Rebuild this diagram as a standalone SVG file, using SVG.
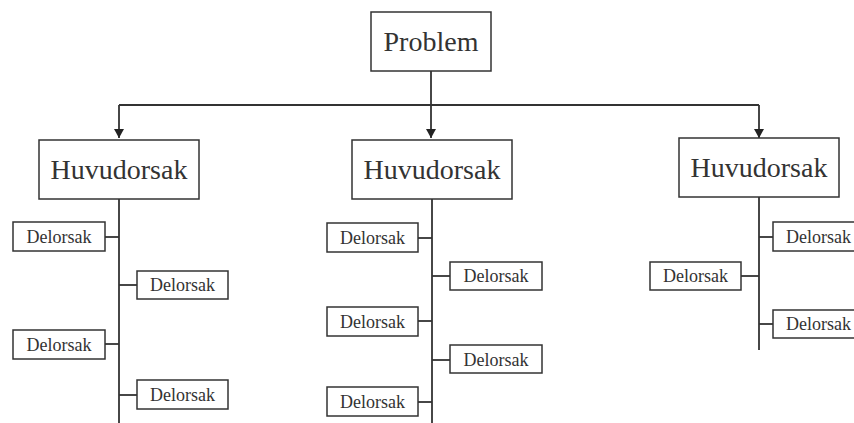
<svg xmlns="http://www.w3.org/2000/svg" width="854" height="423" viewBox="0 0 854 423">
  <style>
    .box { fill: #ffffff; stroke: #333333; stroke-width: 1.5; }
    .line { fill: none; stroke: #333333; stroke-width: 1.8; }
    .big { font-family: "Liberation Serif", "Times New Roman", serif; font-size: 28px; fill: #333333; text-anchor: middle; }
    .small { font-family: "Liberation Serif", "Times New Roman", serif; font-size: 18px; fill: #333333; text-anchor: middle; }
  </style>
  <defs>
    <marker id="arrow" markerWidth="10" markerHeight="10" refX="9" refY="5" orient="auto" markerUnits="userSpaceOnUse">
      <path d="M0,0 L9,5 L0,10 z" fill="#222222"/>
    </marker>
  </defs>
  <rect width="854" height="423" fill="#ffffff"/>

  <!-- connectors -->
  <g id="connectors">
    <!-- root to branches -->
    <path class="line" d="M431,71 V138" marker-end="url(#arrow)"/>
    <path class="line" d="M119,105 H759"/>
    <path class="line" d="M119,105 V138" marker-end="url(#arrow)"/>
    <path class="line" d="M759,105 V138" marker-end="url(#arrow)"/>
    <!-- spine 1 -->
    <path class="line" d="M119,199 V423"/>
    <path class="line" d="M105,237 H119"/>
    <path class="line" d="M119,285 H137"/>
    <path class="line" d="M105,344 H119"/>
    <path class="line" d="M119,395 H137"/>
    <!-- spine 2 -->
    <path class="line" d="M432,199 V423"/>
    <path class="line" d="M418,238 H432"/>
    <path class="line" d="M432,276 H450"/>
    <path class="line" d="M418,321 H432"/>
    <path class="line" d="M432,360 H450"/>
    <path class="line" d="M418,402 H432"/>
    <!-- spine 3 -->
    <path class="line" d="M759,197 V350"/>
    <path class="line" d="M759,237 H773"/>
    <path class="line" d="M741,276 H759"/>
    <path class="line" d="M759,324 H773"/>
  </g>

  <g id="problem">
    <rect class="box" x="371" y="12" width="120" height="59"/>
    <text class="big" x="431" y="51">Problem</text>
  </g>

  <g id="huvudorsak-1">
    <rect class="box" x="39" y="140" width="160" height="59"/>
    <text class="big" x="119" y="179">Huvudorsak</text>
  </g>
  <g id="huvudorsak-2">
    <rect class="box" x="352" y="140" width="160" height="59"/>
    <text class="big" x="432" y="179">Huvudorsak</text>
  </g>
  <g id="huvudorsak-3">
    <rect class="box" x="679" y="138" width="160" height="59"/>
    <text class="big" x="759" y="177">Huvudorsak</text>
  </g>

  <!-- sub-causes, branch 1 -->
  <g id="delorsak-1a">
    <rect class="box" x="13" y="222" width="92" height="29"/>
    <text class="small" x="59" y="243">Delorsak</text>
  </g>
  <g id="delorsak-1b">
    <rect class="box" x="137" y="271" width="91" height="28"/>
    <text class="small" x="182.5" y="291">Delorsak</text>
  </g>
  <g id="delorsak-1c">
    <rect class="box" x="13" y="330" width="92" height="29"/>
    <text class="small" x="59" y="351">Delorsak</text>
  </g>
  <g id="delorsak-1d">
    <rect class="box" x="137" y="380" width="91" height="29"/>
    <text class="small" x="182.5" y="401">Delorsak</text>
  </g>

  <!-- sub-causes, branch 2 -->
  <g id="delorsak-2a">
    <rect class="box" x="327" y="223" width="91" height="29"/>
    <text class="small" x="372.5" y="244">Delorsak</text>
  </g>
  <g id="delorsak-2b">
    <rect class="box" x="450" y="262" width="92" height="28"/>
    <text class="small" x="496" y="282">Delorsak</text>
  </g>
  <g id="delorsak-2c">
    <rect class="box" x="327" y="307" width="91" height="29"/>
    <text class="small" x="372.5" y="328">Delorsak</text>
  </g>
  <g id="delorsak-2d">
    <rect class="box" x="450" y="345" width="92" height="28"/>
    <text class="small" x="496" y="366">Delorsak</text>
  </g>
  <g id="delorsak-2e">
    <rect class="box" x="327" y="387" width="91" height="29"/>
    <text class="small" x="372.5" y="408">Delorsak</text>
  </g>

  <!-- sub-causes, branch 3 -->
  <g id="delorsak-3a">
    <rect class="box" x="773" y="222" width="91" height="29"/>
    <text class="small" x="818.5" y="243">Delorsak</text>
  </g>
  <g id="delorsak-3b">
    <rect class="box" x="650" y="262" width="91" height="28"/>
    <text class="small" x="695.5" y="282">Delorsak</text>
  </g>
  <g id="delorsak-3c">
    <rect class="box" x="773" y="310" width="91" height="28"/>
    <text class="small" x="818.5" y="330">Delorsak</text>
  </g>
</svg>
